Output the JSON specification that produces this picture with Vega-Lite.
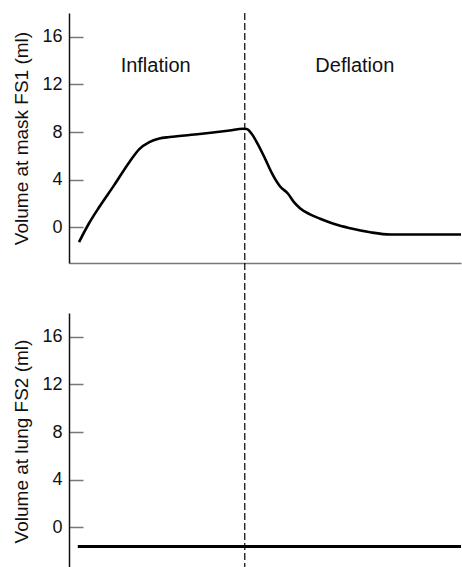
{
  "$schema": "https://vega.github.io/schema/vega-lite/v6.json",
  "padding": {"left": 12, "top": 12, "right": 0, "bottom": 0},
  "background": "white",
  "bounds": "flush",
  "spacing": 50,
  "config": {
    "view": {"stroke": null},
    "font": "Liberation Sans",
    "axis": {
      "grid": false,
      "labelFont": "Liberation Sans",
      "titleFont": "Liberation Sans",
      "labelFontSize": 18,
      "titleFontSize": 19,
      "titleFontWeight": "normal",
      "labelColor": "#111",
      "titleColor": "#111"
    }
  },
  "datasets": {
    "mask": [
      {"t": 0.057, "v": -1.24},
      {"t": 0.114, "v": 0.34},
      {"t": 0.171, "v": 1.68},
      {"t": 0.257, "v": 3.54},
      {"t": 0.343, "v": 5.47},
      {"t": 0.4, "v": 6.57},
      {"t": 0.457, "v": 7.16},
      {"t": 0.514, "v": 7.45},
      {"t": 0.571, "v": 7.58},
      {"t": 0.743, "v": 7.83},
      {"t": 0.914, "v": 8.13},
      {"t": 0.989, "v": 8.28},
      {"t": 1.011, "v": 8.25},
      {"t": 1.04, "v": 7.83},
      {"t": 1.074, "v": 6.99},
      {"t": 1.114, "v": 5.81},
      {"t": 1.154, "v": 4.55},
      {"t": 1.2, "v": 3.45},
      {"t": 1.246, "v": 2.82},
      {"t": 1.28, "v": 2.11},
      {"t": 1.314, "v": 1.6},
      {"t": 1.371, "v": 1.09},
      {"t": 1.429, "v": 0.72},
      {"t": 1.514, "v": 0.25},
      {"t": 1.6, "v": -0.08},
      {"t": 1.714, "v": -0.42},
      {"t": 1.829, "v": -0.61},
      {"t": 2.23, "v": -0.61}
    ],
    "lung": [
      {"t": 0.05, "v": -1.6},
      {"t": 2.23, "v": -1.6}
    ],
    "phases": [
      {"t": 0.493, "v": 13.05, "label": "Inflation"},
      {"t": 1.626, "v": 13.05, "label": "Deflation"}
    ],
    "switch": [
      {"t": 1.0, "top": 18, "bottom": -28.7}
    ]
  },
  "vconcat": [
    {
      "width": 392,
      "height": 250,
      "layer": [
        {
          "data": {"name": "mask"},
          "mark": {"type": "line", "color": "black", "strokeWidth": 2.6, "interpolate": "monotone"},
          "encoding": {
            "x": {"field": "t", "type": "quantitative", "scale": {"domain": [0, 2.23], "nice": false},
              "axis": {"title": null, "labels": false, "ticks": false, "domainColor": "#777", "domainWidth": 1.5}},
            "y": {"field": "v", "type": "quantitative", "scale": {"domain": [-3, 18], "nice": false, "zero": false},
              "axis": {"title": "Volume at mask FS1 (ml)", "values": [0, 4, 8, 12, 16], "tickSize": -14, "tickColor": "#777", "tickWidth": 1.5,
                "domainColor": "#111", "domainWidth": 1.5, "labelPadding": 21, "titlePadding": 10}}
          }
        },
        {
          "data": {"name": "phases"},
          "mark": {"type": "text", "fontSize": 20, "baseline": "alphabetic", "align": "center", "color": "#111", "font": "Liberation Sans"},
          "encoding": {
            "x": {"field": "t", "type": "quantitative"},
            "y": {"field": "v", "type": "quantitative"},
            "text": {"field": "label"}
          }
        },
        {
          "data": {"name": "switch"},
          "mark": {"type": "rule", "color": "black", "strokeWidth": 1.2, "strokeDash": [7, 3], "clip": false},
          "encoding": {
            "x": {"field": "t", "type": "quantitative"},
            "y": {"field": "top", "type": "quantitative"},
            "y2": {"field": "bottom"}
          }
        }
      ]
    },
    {
      "width": 392,
      "height": 256,
      "data": {"name": "lung"},
      "mark": {"type": "line", "color": "black", "strokeWidth": 3},
      "encoding": {
        "x": {"field": "t", "type": "quantitative", "scale": {"domain": [0, 2.23], "nice": false}, "axis": null},
        "y": {"field": "v", "type": "quantitative", "scale": {"domain": [-3.5, 18], "nice": false, "zero": false},
          "axis": {"title": "Volume at lung FS2 (ml)", "values": [0, 4, 8, 12, 16], "tickSize": -14, "tickColor": "#777", "tickWidth": 1.5,
            "domainColor": "#111", "domainWidth": 1.5, "labelPadding": 21, "titlePadding": 10}}
      }
    }
  ]
}
